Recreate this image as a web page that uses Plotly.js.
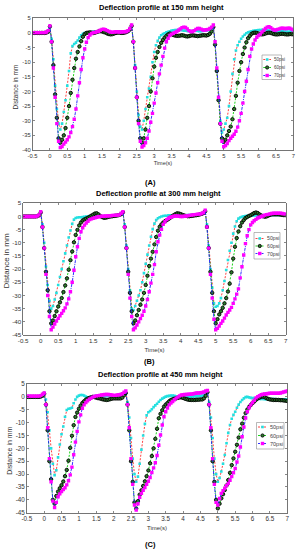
<!DOCTYPE html>
<html><head><meta charset="utf-8">
<script src="https://cdn.plot.ly/plotly-3.0.1.min.js"></script>
<style>html,body{margin:0;padding:0;background:#fff}#chart{width:299px;height:550px}</style>
</head><body><div id="chart"></div>
<script>
// ---------- DATA ----------
const time = [-0.5,-0.45,-0.4,-0.35,-0.3,-0.25,-0.2,-0.15,-0.1,-0.05,0,0.05,0.1,0.15,0.2,0.25,0.3,0.35,0.4,0.45,0.5,0.55,0.6,0.65,0.7,0.75,0.8,0.85,0.9,0.95,1,1.05,1.1,1.15,1.2,1.25,1.3,1.35,1.4,1.45,1.5,1.55,1.6,1.65,1.7,1.75,1.8,1.85,1.9,1.95,2,2.05,2.1,2.15,2.2,2.25,2.3,2.35,2.4,2.45,2.5,2.55,2.6,2.65,2.7,2.75,2.8,2.85,2.9,2.95,3,3.05,3.1,3.15,3.2,3.25,3.3,3.35,3.4,3.45,3.5,3.55,3.6,3.65,3.7,3.75,3.8,3.85,3.9,3.95,4,4.05,4.1,4.15,4.2,4.25,4.3,4.35,4.4,4.45,4.5,4.55,4.6,4.65,4.7,4.75,4.8,4.85,4.9,4.95,5,5.05,5.1,5.15,5.2,5.25,5.3,5.35,5.4,5.45,5.5,5.55,5.6,5.65,5.7,5.75,5.8,5.85,5.9,5.95,6,6.05,6.1,6.15,6.2,6.25,6.3,6.35,6.4,6.45,6.5,6.55,6.6,6.65,6.7,6.75,6.8,6.85,6.9,6.95,7];

const seriesNames = ['50psi','60psi','70psi'];
const panelTitles = ['Deflection profile at 150 mm height','Deflection profile at 300 mm height','Deflection profile at 450 mm height'];
const panelLabels = ['(A)','(B)','(C)'];
const xTitle = 'Time(s)';
const yTitle = 'Distance in mm';
const xTickVals = [-0.5,0,0.5,1,1.5,2,2.5,3,3.5,4,4.5,5,5.5,6,6.5,7];
const xTickText = ['-0.5','0','0.5','1','1.5','2','2.5','3','3.5','4','4.5','5','5.5','6','6.5','7'];
const yTickValsA = [5,0,-5,-10,-15,-20,-25,-30,-35,-40];
const yTickTextA = ['5','0','-5','-10','-15','-20','-25','-30','-35','-40'];
const yTickValsBC = [5,0,-5,-10,-15,-20,-25,-30,-35,-40,-45];
const yTickTextBC = ['5','0','-5','-10','-15','-20','-25','-30','-35','-40','-45'];

// Panel A (150 mm)
const a50 = [0,0,0,0,0,0,0,0,0.1,0.3, 2.0,
 -2,-9,-18,-26,-31,-33,-31,-27,-23,-18,
 -13,-7,-4.5,-3.8,-3.3,-2.6,-1.6,-0.8,-0.3,0,
 0.1,0.2,0.2,0.3,0.4,0.5,0.5,0.5,0.6,0.7,
 0.6,0.4,0.2,0,0,0.1,0.2,0.3,0.3,0.4,
 0.4,0.3,0.3,0.4,0.6,1.0,
 2.3,
 -3,-11,-20,-28,-32,-33,-30,-26,-22,-19,
 -15,-10,-6.5,-4.2,-2.7,-1.6,-0.8,-0.4,-0.1,0.2,
 0.4,0.6,0.8,0.9,1.0,1.0,1.1,1.0,0.9,0.8,
 0.8,0.7,0.6,0.6,0.7,0.8,0.8,0.7,0.6,0.6,
 0.7,0.8,0.8,0.9,1.0,1.3,
 2.2,
 -4,-13,-22,-30,-34,-33,-31,-29,-25,-20,
 -14,-9,-6,-4.2,-3,-2,-1.2,-0.6,-0.1,0.2,
 0.4,0.6,0.7,0.8,0.9,1.0,1.0,1.1,1.0,1.0,
 0.9,0.8,0.7,0.6,0.6,0.5,0.5,0.5,0.6,0.6,
 0.5,0.5,0.4,0.5,0.5,0.5];
const a60 = [0,0,0,0,0,0,0,0,0.1,0.4, 2.2,
 -3,-11,-21,-29,-36,-37.5,-36.5,-35,-32.5,-29,
 -25,-20.5,-16,-12,-8.8,-6.5,-4.6,-2.8,-1.3,-0.4,
 0,0.1,0.2,0.1,0,0.1,0.3,0.5,0.6,0.5,
 0.3,0.1,-0.2,-0.4,-0.5,-0.4,-0.2,0,0.1,0.1,
 0,0,0.1,0.3,0.6,1.2,
 2.4,
 -3,-12,-22,-30,-36,-37.5,-36,-33,-29,-25,
 -20,-15.5,-11.5,-8.5,-6.5,-4.8,-3.4,-2.4,-1.6,-1.0,
 -0.5,-0.2,-0.4,-0.7,-0.9,-1.0,-1.0,-0.9,-0.8,-0.9,
 -1.1,-1.2,-1.1,-0.9,-0.8,-0.9,-1.0,-1.1,-1.0,-0.9,
 -0.8,-0.8,-0.9,-0.7,-0.3,0.5,
 2.0,
 -4,-13,-23,-31,-36,-37.2,-36.5,-35,-33.5,-32,
 -29.5,-26,-21.5,-17,-13,-10,-7.2,-5,-3.2,-1.8,
 -1,-0.3,0,0.1,0,-0.2,-0.4,-0.5,-0.4,-0.2,
 0,0.1,0,-0.2,-0.4,-0.5,-0.5,-0.4,-0.3,-0.3,
 -0.4,-0.5,-0.5,-0.4,-0.4,-0.5];
const a70 = [0.1,0.1,0.1,0.1,0.1,0.1,0.1,0.1,0.3,0.8, 2.4,
 -3,-12,-22,-31,-37,-39.2,-38.8,-38,-37.3,-36.5,
 -35.5,-34,-32,-29.5,-26,-21.5,-17,-12.5,-8.5,-5.5,
 -3.2,-1.6,-0.7,-0.2,0.1,0.2,0.4,0.6,0.9,1.2,
 1.3,1.1,0.8,0.5,0.3,0.2,0.3,0.4,0.4,0.3,
 0.3,0.4,0.4,0.5,0.8,1.5,
 2.7,
 -3,-12,-22,-31,-37,-39,-38.5,-37.5,-36,-33.5,
 -30.5,-27.5,-24,-20.5,-17,-14,-11,-8,-5.2,-3,
 -1.8,-0.9,-0.4,-0.1,0.2,0.5,0.9,1.4,1.8,2.0,
 1.9,1.4,0.8,0.5,0.5,0.8,1.2,1.5,1.5,1.3,
 1.0,1.0,1.1,1.2,1.5,2.0,
 2.7,
 -3,-12,-22,-31,-37,-38.9,-38.5,-37.8,-36.8,-36,
 -35.3,-34.6,-33.6,-32.2,-30,-27.5,-24,-20,-16.5,-12.5,
 -8,-5.5,-3.8,-2.4,-1.5,-0.9,-0.4,0.3,0.9,1.5,
 2.0,2.1,1.8,1.3,1.0,1.0,1.2,1.4,1.6,1.6,
 1.5,1.5,1.6,1.6,1.3,1.0];

// Panel B (300 mm)
const b50 = [0,0,0,0,0,0,0,0,0.1,0.4, 1.5,
 -3,-10,-19,-26,-32,-35,-34,-31.5,-29,-26,
 -23,-20,-17,-14,-11,-8,-5.3,-2.8,-1.2,-0.6,
 -0.4,-0.3,-0.3,-0.2,-0.1,0,0.1,0.2,0.2,0.2,
 0.1,0,0,0,0.1,0.2,0.2,0.2,0.2,0.3,
 0.3,0.3,0.3,0.4,0.5,0.9,
 1.6,
 -3,-11,-20,-28,-35,-35.5,-34,-32,-30,-28,
 -25,-21.5,-18,-14.5,-11,-7.7,-4.8,-2.7,-1.4,-0.7,
 -0.3,0,0.2,0.3,0.3,0.4,0.4,0.3,0.3,0.4,
 0.5,0.5,0.4,0.3,0.3,0.4,0.5,0.5,0.5,0.6,
 0.6,0.6,0.7,0.8,0.9,1.3,
 2.0,
 -3,-11,-20,-27,-33,-34.3,-34,-33,-31,-28,
 -24.5,-20.3,-16.5,-13,-10,-6.5,-3.8,-1.8,-0.8,-0.4,
 -0.1,0.1,0.2,0.3,0.3,0.3,0.3,0.4,0.4,0.5,
 0.5,0.5,0.4,0.4,0.4,0.4,0.5,0.5,0.6,0.6,
 0.6,0.6,0.6,0.6,0.6,0.6];
const b60 = [0,0,0,0,0,0,0,0,0.1,0.4, 1.5,
 -4,-12,-21,-28,-36,-40.6,-39.5,-37.8,-36,-34.2,
 -32.6,-31,-28.7,-26.2,-23.5,-20.2,-16.6,-13.3,-9.8,-7,
 -5.1,-3.4,-2.3,-1.5,-1.1,-0.8,-0.5,-0.1,0.3,0.7,
 1.1,1.2,0.8,0.2,-0.2,-0.5,-0.5,-0.3,-0.1,0,
 0.1,0.2,0.3,0.4,0.6,0.9,
 1.6,
 -4,-12,-21,-29,-36,-40.6,-39.5,-37.5,-35.5,-33.5,
 -31.5,-29,-26,-22.5,-18.8,-16,-13.4,-10.6,-7.8,-5.4,
 -3.9,-3,-2.3,-1.8,-1.4,-1,-0.5,0,0.5,0.9,
 1.2,1.1,0.9,0.6,0.4,0.2,0.1,0.1,0.2,0.3,
 0.4,0.5,0.6,0.8,1.0,1.3,
 2.0,
 -4,-12,-21,-29,-36,-40.6,-39,-37.2,-36,-34.7,
 -33,-31,-28.5,-25.5,-21.2,-16,-11.5,-8.2,-5.7,-3.7,
 -2.3,-1.4,-0.6,-0.2,0.2,0.5,0.9,1.3,1.5,1.3,
 0.8,0.4,0.1,-0.1,0,0.3,0.6,0.8,0.8,0.8,
 0.8,0.8,0.7,0.6,0.5,0.5];
const b70 = [0,0,0,0,0,0,0,0,0.2,0.6, 1.8,
 -4,-12,-22,-30,-38,-43,-42,-40.8,-39.7,-38.7,
 -37.7,-36.8,-35.8,-34.7,-33.2,-31.3,-28.6,-25,-20.4,-15.3,
 -11.5,-8.3,-5.8,-4.3,-3.3,-2.5,-1.8,-1.2,-0.9,-0.7,
 -0.5,-0.3,-0.1,0,0.1,0.1,0.2,0.2,0.3,0.3,
 0.4,0.4,0.5,0.5,0.6,1.2,
 1.8,
 -4,-12,-22,-31,-38,-43,-42.3,-41.2,-40,-38.8,
 -37.5,-36,-34,-31.5,-28.6,-25.3,-22,-18.3,-13.4,-9.6,
 -7.1,-4.9,-3,-2,-1.2,-0.7,-0.3,-0.1,0.1,0.2,
 0.2,0.1,0,0,0.1,0.2,0.3,0.4,0.5,0.6,
 0.7,0.8,0.9,0.9,1.1,1.5,
 2.4,
 -4,-12,-22,-31,-39,-43,-42.5,-41.6,-40.6,-39.7,
 -38.6,-37.4,-36.4,-35.5,-34.5,-33,-31.3,-29.5,-27.5,-23.3,
 -19.1,-14.6,-10.3,-7.3,-5,-3.2,-2.3,-1.6,-1.1,-0.6,
 -0.3,0,0.2,0.5,0.7,0.8,1.0,1.1,1.2,1.2,
 1.2,1.2,1.2,1.1,1.0,1.0];

// Panel C (450 mm)
const c50 = [0,0,0,0,0,0,0,0,0.1,0.4, 1.5,
 -1,-6,-13,-20,-26,-30.4,-28.5,-23.5,-18.5,-14.5,
 -11.5,-7.7,-5.1,-4.6,-4.5,-4.2,-2.5,-1,0,0.5,
 0.7,0.7,0.5,0.1,-0.2,-0.2,0,0.2,0.3,0.4,
 0.4,0.4,0.3,0.3,0.3,0.4,0.4,0.5,0.5,0.5,
 0.5,0.5,0.6,0.6,0.8,1.2,
 2.0,
 -2,-8,-16,-24,-30,-33,-31,-26,-20.5,-15,
 -10.5,-7.2,-6,-5.5,-4.8,-4,-3.3,-2.7,-1.9,-1.2,
 -0.7,-0.3,0.1,0.3,0.4,0.5,0.5,0.4,0.2,0.1,
 0,-0.2,-0.3,-0.2,-0.1,0,0.1,0.1,0.2,0.2,
 0.3,0.3,0.4,0.5,0.7,1.0,
 1.8,
 -2,-8,-16,-24,-30,-33,-31.5,-29,-26,-22.6,
 -18,-14,-10.9,-8.5,-7,-5.8,-4.2,-3,-2,-1.2,
 -0.6,-0.1,0,-0.2,-0.4,-0.5,-0.5,-0.6,-0.7,-0.8,
 -0.8,-0.8,-0.9,-0.9,-0.9,-0.8,-0.8,-0.8,-0.8,-0.9,
 -0.9,-0.9,-0.9,-0.9,-0.9,-0.9];
const c60 = [0,0,0,0,0,0,0,0,0.1,0.4, 1.2,
 -3,-13,-25,-32,-40,-41.5,-38.5,-36.8,-35.5,-34.3,
 -32.9,-30.8,-28.4,-24.8,-19.8,-15.1,-11,-7.8,-6.1,-4.6,
 -3.4,-2.4,-1.7,-1.1,-0.7,-0.4,-0.2,0,-0.1,-0.3,
 -0.5,-0.6,-0.8,-1.0,-1.1,-1.2,-1.1,-0.9,-0.7,-0.6,
 -0.6,-0.6,-0.6,-0.6,-0.3,0.6,
 1.5,
 -3,-13,-25,-33,-41,-43.4,-40.5,-38,-36.3,-34.6,
 -32.8,-30.8,-28.6,-25.8,-23,-20,-16.3,-12.4,-8.3,-6.6,
 -5.2,-3.8,-3,-2.4,-1.7,-1.2,-0.9,-0.7,-0.6,-0.4,
 -0.2,-0.2,-0.4,-0.7,-0.9,-1.1,-1.2,-1.2,-1.2,-1.2,
 -1.1,-1.1,-1.0,-1.0,-0.6,0.4,
 1.8,
 -3,-13,-25,-33,-40,-43.3,-41.5,-39.4,-37.8,-36.2,
 -34.4,-32.3,-29.5,-26.5,-23.9,-21.3,-18.6,-15.8,-12.6,-10.4,
 -8.1,-6.3,-4.9,-3.9,-3.1,-2.4,-1.8,-1.1,-0.6,-0.3,
 0,0.1,-0.1,-0.5,-0.8,-1.0,-1.1,-1.2,-1.2,-1.2,
 -1.2,-1.3,-1.3,-1.4,-1.5,-1.6];
const c70 = [0.3,0.3,0.3,0.3,0.3,0.3,0.3,0.3,0.5,1.0, 1.5,
 -3,-12,-24,-33,-40.5,-43,-41,-38.8,-37.7,-36.8,
 -36,-35.3,-34.2,-32.6,-30.3,-27.3,-22.5,-17.6,-13.4,-9.7,
 -7,-4.4,-3.1,-2.2,-1.5,-0.9,-0.5,-0.1,0.2,0.4,
 0.5,0.6,0.7,0.8,0.9,0.9,0.9,0.8,0.7,0.6,
 0.6,0.7,0.8,0.9,1.2,1.8,
 2.3,
 -3,-12,-24,-34,-42,-44,-41.5,-39,-37.5,-36.3,
 -35.2,-34,-32.8,-31.3,-29.4,-27.6,-25.6,-22.8,-18.8,-14.8,
 -10.9,-7.7,-5.8,-4.3,-3.1,-2.4,-1.8,-1.1,-0.5,-0.1,
 0.4,0.7,0.8,0.9,0.9,1.0,1.0,1.1,1.2,1.4,
 1.5,1.5,1.6,1.7,1.9,2.3,
 2.5,
 -3,-12,-24,-34,-41,-42,-39.5,-37.5,-36.5,-35.5,
 -34.5,-33.6,-32.4,-31,-29.5,-27.8,-25.3,-23,-19.5,-15.5,
 -11.7,-8.2,-5.8,-4.2,-3.1,-2.2,-1.3,-0.4,0.1,0.5,
 0.8,1.0,1.1,1.2,1.3,1.4,1.4,1.4,1.4,1.4,
 1.4,1.5,1.7,1.9,2.1,2.3];

// ---------- LAYOUT HELPERS ----------
const W = 299, H = 550;
const px = x => x / W;
const py = y => 1 - y / H;

const styles = [
  {line:{color:'#ff2a2a', dash:'2px,1.5px', width:0.9}, marker:{symbol:'square', size:2.6, color:'#22e0e0', line:{width:0}}},
  {line:{color:'#00d000', dash:'2px,1.5px', width:0.9}, marker:{symbol:'circle', size:3.4, color:'#2e7d2e', line:{color:'#000000', width:0.9}}},
  {line:{color:'#1a1aff', dash:'3px,1px,1px,1px', width:0.9}, marker:{symbol:'square', size:3.4, color:'#ff00ff', line:{width:0}}}
];

const panels = [
  {data:[a50,a60,a70], box:[32.5,293.3,18.3,150], yr:[-40,5], yv:yTickValsA, yt:yTickTextA,
   title:[161.5,8], label:[150,182], ytp:[15,87.5], xsd:3, tfs:5.8, yfs:6.5, xfs:5.5,
   leg:{x0:262,x1:281.5,y0:55,y1:79.5, rows:[59.5,67.5,75.5], lx0:263.3, lx1:271, tx:271.8, fs:4.6}},
  {data:[b50,b60,b70], box:[23.2,285.7,203.3,335], yr:[-45,5], yv:yTickValsBC, yt:yTickTextBC,
   title:[158,193.3], label:[149,361.7], ytp:[5.5,261], xsd:4, tfs:6.2, yfs:8, xfs:6,
   leg:{x0:254,x1:280,y0:232.5,y1:259, rows:[238.5,246,253.5], lx0:255.5, lx1:264, tx:264.8, fs:5.2}},
  {data:[c50,c60,c70], box:[26.8,287.3,384,512.7], yr:[-45,5], yv:yTickValsBC, yt:yTickTextBC,
   title:[160.3,374], label:[150,544], ytp:[8.8,451], xsd:4, tfs:6.3, yfs:7, xfs:6,
   leg:{x0:256.5,x1:284,y0:422.5,y1:449, rows:[427,435.5,443.5], lx0:258, lx1:267, tx:267.8, fs:5.5}}
];

const axisColor = '#3a3a3a';
const tickColor = '#333333';
const traces = [];
const layout = {
  width: W, height: H, margin:{l:0,r:0,t:0,b:0},
  paper_bgcolor:'#ffffff', plot_bgcolor:'#ffffff', showlegend:false,
  font:{family:'Liberation Sans, Arial, sans-serif', color:tickColor},
  annotations:[], shapes:[]
};

let lenErr = false;
panels.forEach((p, k) => {
  const n = k === 0 ? '' : String(k+1);
  const xa = 'x' + n, ya = 'y' + n;
  p.data.forEach((vals, j) => {
    if (vals.length !== time.length) lenErr = true;
    traces.push({
      type:'scatter', mode:'lines+markers', x: time, y: vals, name: seriesNames[j],
      xaxis: xa, yaxis: ya, line: styles[j].line, marker: styles[j].marker, cliponaxis:true
    });
  });
  const [l, r, t, b] = p.box;
  layout['xaxis' + n] = {
    domain:[px(l), px(r)], anchor: ya, range:[-0.5, 7], tickmode:'array', tickvals:xTickVals, ticktext:xTickText,
    ticks:'inside', ticklen:2, tickwidth:0.6, tickcolor:axisColor, showline:true, linecolor:axisColor, linewidth:0.7,
    mirror:'ticks', showgrid:false, zeroline:false, tickfont:{size:p.tfs, color:tickColor},
    title:{text:xTitle, font:{size:p.xfs, color:tickColor}, standoff:p.xsd}, automargin:false, fixedrange:true
  };
  layout['yaxis' + n] = {
    domain:[py(b), py(t)], anchor: xa, range:p.yr, tickmode:'array', tickvals:p.yv, ticktext:p.yt,
    ticks:'inside', ticklen:2, tickwidth:0.6, tickcolor:axisColor, showline:true, linecolor:axisColor, linewidth:0.7,
    mirror:'ticks', showgrid:false, zeroline:false, tickfont:{size:p.tfs, color:tickColor},
    automargin:false, fixedrange:true
  };
  // y axis title (placed precisely)
  layout.annotations.push({text:yTitle, x:px(p.ytp[0]), y:py(p.ytp[1]), xref:'paper', yref:'paper', textangle:-90,
    xanchor:'center', yanchor:'middle', showarrow:false, font:{size:p.yfs, color:tickColor}});
  // panel title
  layout.annotations.push({text:panelTitles[k], x:px(p.title[0]), y:py(p.title[1]), xref:'paper', yref:'paper',
    xanchor:'center', yanchor:'middle', showarrow:false, font:{size:7.5, weight:'bold', color:'#000'}});
  // panel label
  layout.annotations.push({text:panelLabels[k], x:px(p.label[0]), y:py(p.label[1]), xref:'paper', yref:'paper',
    xanchor:'center', yanchor:'middle', showarrow:false, font:{size:7.5, weight:'bold', color:'#000'}});
  // legend box
  const g = p.leg;
  layout.shapes.push({type:'rect', xref:'paper', yref:'paper', x0:px(g.x0), x1:px(g.x1), y0:py(g.y1), y1:py(g.y0),
    line:{color:'#8a8a8a', width:0.6}, fillcolor:'#ffffff', layer:'above'});
  g.rows.forEach((ry, j) => {
    const st = styles[j];
    layout.shapes.push({type:'line', xref:'paper', yref:'paper', x0:px(g.lx0), x1:px(g.lx1), y0:py(ry), y1:py(ry),
      line:{color:st.line.color, width:0.9, dash:'2px,1px'}, layer:'above'});
    const cx = (g.lx0 + g.lx1) / 2, s = j === 0 ? 1.3 : (j === 1 ? 1.6 : 1.7);
    layout.shapes.push({type: j === 1 ? 'circle' : 'rect', xref:'paper', yref:'paper',
      x0:px(cx - s), x1:px(cx + s), y0:py(ry + s), y1:py(ry - s),
      line:{color: j === 1 ? '#000' : st.marker.color, width: j === 1 ? 0.9 : 0}, fillcolor:st.marker.color, layer:'above'});
    layout.annotations.push({text:seriesNames[j], x:px(g.tx), y:py(ry), xref:'paper', yref:'paper',
      xanchor:'left', yanchor:'middle', showarrow:false, font:{size:g.fs, color:'#444'}});
  });
});
if (lenErr) layout.annotations.push({text:'LENGTH MISMATCH', x:0.5, y:0.5, xref:'paper', yref:'paper', showarrow:false, font:{size:20,color:'red'}});

Plotly.newPlot('chart', traces, layout, {staticPlot:true, displayModeBar:false});
</script>
</body></html>
